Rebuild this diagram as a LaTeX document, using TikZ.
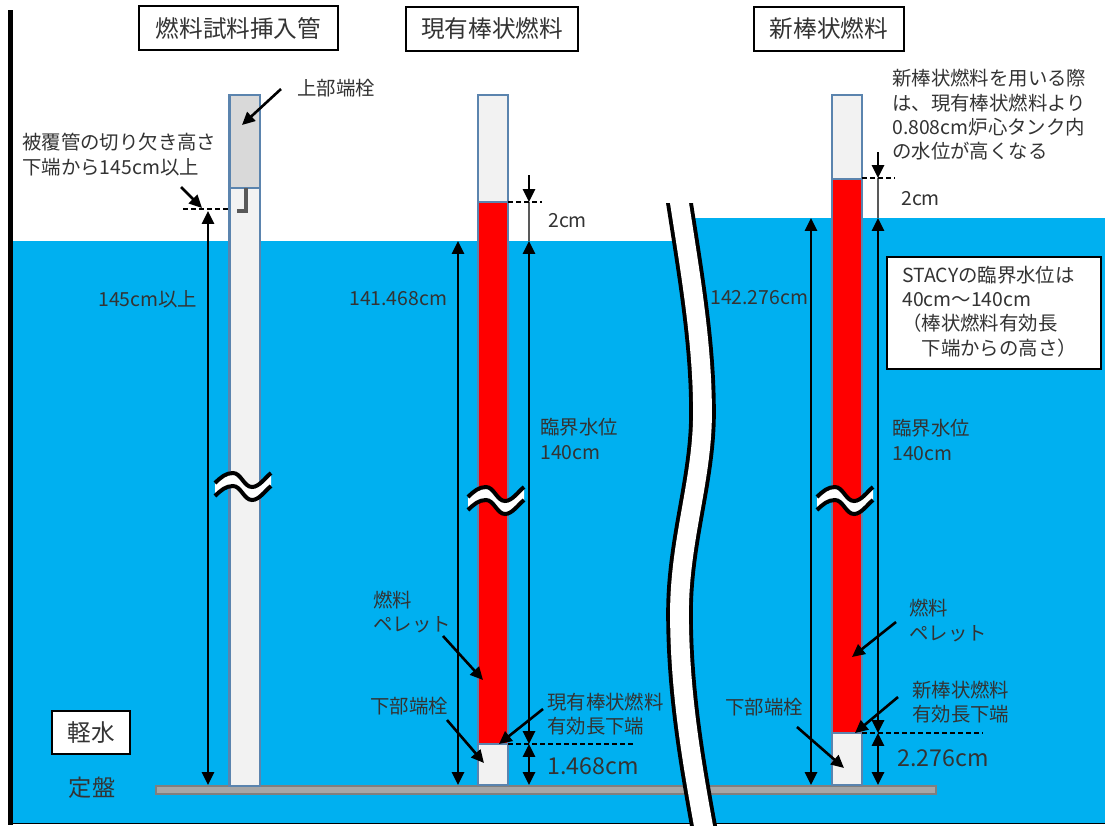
\documentclass[tikz,border=0pt]{standalone}
\usepackage{fontspec}
\setmainfont{Noto Sans CJK JP}
\usetikzlibrary{arrows.meta}
\definecolor{water}{HTML}{00B0F0}
\definecolor{rodedge}{HTML}{5B84AE}
\definecolor{rodgray}{HTML}{F2F2F2}
\definecolor{plug}{HTML}{D9D9D9}
\definecolor{plate}{HTML}{A6A6A6}
\definecolor{plateedge}{HTML}{7F7F7F}
\definecolor{hook}{HTML}{595959}
\definecolor{ink}{HTML}{333333}
\newcommand{\wavemark}[2]{
	\begin{scope}[shift={(#1,#2)}]
		\fill[white] (0,0) .. controls (6,-6) and (11,-10) .. (18,-10) .. controls (26,-10) and (29,4) .. (37,4) .. controls (44,4) and (50,-5) .. (56,-10) -- (56,3) .. controls (50,8) and (44,17) .. (37,17) .. controls (29,17) and (26,3) .. (18,3) .. controls (11,3) and (6,7) .. (0,13) -- cycle;
		\draw[line width=0.1cm] (0,0) .. controls (6,-6) and (11,-10) .. (18,-10) .. controls (26,-10) and (29,4) .. (37,4) .. controls (44,4) and (50,-5) .. (56,-10);
		\draw[line width=0.1cm] (0,13) .. controls (6,7) and (11,3) .. (18,3) .. controls (26,3) and (29,17) .. (37,17) .. controls (44,17) and (50,8) .. (56,3);
	\end{scope}
}
\tikzset{
	txt/.style={anchor=west, inner sep=0pt, align=left, text=ink, font=\fontsize{13.8pt}{17.3pt}\selectfont},
	bigtxt/.style={txt, font=\fontsize{16.5pt}{20pt}\selectfont},
	titlebox/.style={draw=black, fill=white, line width=0.04cm, inner sep=0pt, text=ink, font=\fontsize{16.8pt}{20pt}\selectfont},
	rodpart/.style={draw=rodedge, line width=0.06cm},
	arr/.style={line width=0.065cm, -{Triangle[length=0.32cm,width=0.3cm]}},
	dblarr/.style={line width=0.065cm, {Triangle[length=0.32cm,width=0.3cm]}-{Triangle[length=0.32cm,width=0.3cm]}},
	thindash/.style={dashed, line width=0.03cm, dash pattern=on 0.12cm off 0.08cm},
}
\begin{document}
\begin{tikzpicture}[x=0.025cm,y=-0.025cm]
	\useasboundingbox (0,0) rectangle (1105,825);
	\fill[water] (13,241) rectangle (690,823);
	\fill[water] (690,218) rectangle (1105,823);
	\draw[line width=0.125cm] (10.5,10) -- (10.5,825);
	\draw[line width=0.04cm] (13,823.5) -- (1105,823.5);
	\draw[fill=plate, draw=plateedge, line width=0.06cm] (156,786) rectangle (936,794);

	\draw[rodpart, fill=rodgray] (229.5,188) rectangle (260,786);
	\draw[rodpart, fill=plug] (229.5,95) rectangle (260,188);
	\draw[hook, line width=0.1cm] (246,188) -- (246,210.5) -- (237,210.5);

	\draw[rodpart, fill=rodgray] (478,95) rectangle (508,202);
	\draw[rodpart, fill=red] (478,202) rectangle (508,744);
	\draw[rodpart, fill=rodgray] (478,744) rectangle (508,785);

	\draw[rodpart, fill=rodgray] (832,95) rectangle (862,179);
	\draw[rodpart, fill=red] (832,179) rectangle (862,733);
	\draw[rodpart, fill=rodgray] (832,733) rectangle (862,785);

	\begin{scope}
		\clip (640,203) rectangle (740,825);
		\draw[line width=0.665cm, line cap=rect] (679.5,203) .. controls (691.5,280) and (702.5,345) .. (702.5,413) .. controls (702.5,480) and (679.5,540) .. (679.5,613) .. controls (679.5,690) and (691.5,760) .. (703.5,826);
		\draw[white, line width=0.47cm, line cap=rect] (679.5,203) .. controls (691.5,280) and (702.5,345) .. (702.5,413) .. controls (702.5,480) and (679.5,540) .. (679.5,613) .. controls (679.5,690) and (691.5,760) .. (703.5,826);
	\end{scope}

	\wavemark{215}{483}
	\wavemark{468}{497}
	\wavemark{817}{497}

	\node[titlebox, minimum width=4.975cm, minimum height=1.1cm] (tubetitle) at (238.5,28) {燃料試料挿入管};
	\node[titlebox, minimum width=4.3cm, minimum height=1.1cm] (curtitle) at (492,29) {現有棒状燃料};
	\node[titlebox, minimum width=3.75cm, minimum height=1.1cm] (newtitle) at (829,29) {新棒状燃料};
	\node[titlebox, minimum width=1.95cm, minimum height=1.075cm] (water) at (91,732.5) {軽水};
	\node[bigtxt, anchor=center] (base) at (92,788) {定盤};
	\node[draw=black, fill=white, line width=0.04cm, minimum width=5.35cm, minimum height=2.8cm] (stacybox) at (994,313) {};

	\node[txt] (topplug) at (297,88) {上部端栓};
	\node[txt] (notch) at (22,154.5) {被覆管の切り欠き高さ\\下端から145cm以上};
	\node[txt] (tubelen) at (98,299) {145cm以上};
	\node[txt] (curgap) at (548,221) {2cm};
	\node[txt] (curlen) at (349,299) {141.468cm};
	\node[txt] (curcrit) at (540,439) {臨界水位\\140cm};
	\node[txt] (curpellet) at (373,612) {燃料\\ペレット};
	\node[txt] (curplug) at (370,706) {下部端栓};
	\node[txt] (curend) at (547,714) {現有棒状燃料\\有効長下端};
	\node[bigtxt] (curbot) at (547,766) {1.468cm};
	\node[txt] (newlen) at (710,298) {142.276cm};
	\node[txt] (newnote) at (892,115) {新棒状燃料を用いる際\\は、現有棒状燃料より\\0.808cm炉心タンク内\\の水位が高くなる};
	\node[txt] (newgap) at (901,199) {2cm};
	\node[txt] (stacytxt) at (902,311.5) {STACYの臨界水位は\\40cm～140cm\\（棒状燃料有効長\\\hspace*{1em}下端からの高さ）};
	\node[txt] (newcrit) at (892,440) {臨界水位\\140cm};
	\node[txt] (newpellet) at (909,620.5) {燃料\\ペレット};
	\node[txt] (newend) at (912,702) {新棒状燃料\\有効長下端};
	\node[txt] (newplug) at (725,707) {下部端栓};
	\node[bigtxt] (newbot) at (897,758) {2.276cm};

	\coordinate (plugtip) at (242,125);
	\coordinate (plugtail) at (281,89);
	\coordinate (notchtail) at (181,187);
	\coordinate (notchtip) at (202,208);
	\coordinate (tubetop) at (208,211);
	\coordinate (tubebot) at (208,785);
	\draw[arr] (plugtail) -- (plugtip);
	\draw[arr] (notchtail) -- (notchtip);
	\draw[dblarr] (tubetop) -- (tubebot);
	\draw[thindash] (183,209) -- (229,209);

	\coordinate (curwater) at (458,241);
	\coordinate (curfloor) at (458,785);
	\coordinate (curhigh) at (529,175);
	\coordinate (curtop) at (529,202);
	\coordinate (curlevel) at (529,241);
	\coordinate (curlow) at (529,744);
	\coordinate (curdown) at (529,785);
	\draw[dblarr] (curwater) -- (curfloor);
	\draw[arr] (curhigh) -- (curtop);
	\draw[hook, line width=0.05cm] (curtop) -- (curlevel);
	\draw[dblarr] (curlevel) -- (curlow);
	\draw[dblarr] (curlow) -- (curdown);
	\draw[thindash] (508,202) -- (542,202);
	\draw[thindash] (508,744) -- (634,744);
	\draw[arr] (443,636) -- (483,680);
	\draw[arr] (447,720) -- (484,763);
	\draw[arr] (543,709) -- (499,744);

	\coordinate (newwater) at (811,218);
	\coordinate (newfloor) at (811,785);
	\coordinate (newhigh) at (878,152);
	\coordinate (newtop) at (878,178);
	\coordinate (newlevel) at (878,218);
	\coordinate (newlow) at (878,733);
	\coordinate (newdown) at (878,785);
	\draw[dblarr] (newwater) -- (newfloor);
	\draw[arr] (newhigh) -- (newtop);
	\draw[hook, line width=0.05cm] (newtop) -- (newlevel);
	\draw[dblarr] (newlevel) -- (newlow);
	\draw[dblarr] (newlow) -- (newdown);
	\draw[thindash] (862,178) -- (895,178);
	\draw[thindash] (862,733) -- (983,733);
	\draw[arr] (896,622) -- (852,657);
	\draw[arr] (898,697) -- (855,733);
	\draw[arr] (797,727) -- (844,768);
\end{tikzpicture}
\end{document}
